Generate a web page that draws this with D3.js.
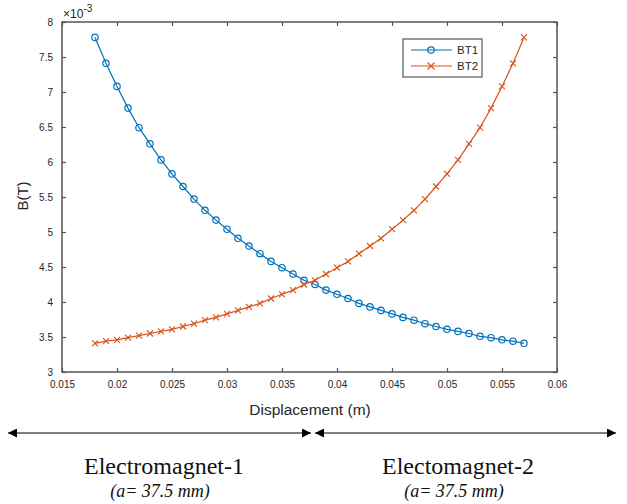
<!DOCTYPE html>
<html>
<head>
<meta charset="utf-8">
<script src="https://cdn.jsdelivr.net/npm/d3@7"></script>
<style>
  body { margin: 0; background: #fff; }
</style>
</head>
<body>
<script>
// Displacement (m) sample points
const displacement = [0.018, 0.019, 0.020, 0.021, 0.022, 0.023, 0.024, 0.025, 0.026, 0.027,
    0.028, 0.029, 0.030, 0.031, 0.032, 0.033, 0.034, 0.035, 0.036, 0.037,
    0.038, 0.039, 0.040, 0.041, 0.042, 0.043, 0.044, 0.045, 0.046, 0.047,
    0.048, 0.049, 0.050, 0.051, 0.052, 0.053, 0.054, 0.055, 0.056, 0.057];

// B field values, in units of 1e-3 T
const bt1 = [7.78, 7.41, 7.08, 6.77, 6.49, 6.26, 6.03, 5.83, 5.65, 5.47,
    5.31, 5.17, 5.04, 4.91, 4.80, 4.69, 4.58, 4.49, 4.40, 4.31,
    4.25, 4.17, 4.11, 4.05, 3.98, 3.93, 3.88, 3.83, 3.78, 3.74,
    3.69, 3.65, 3.61, 3.58, 3.55, 3.51, 3.49, 3.46, 3.44, 3.41];
const bt2 = [3.41, 3.44, 3.46, 3.49, 3.52, 3.55, 3.58, 3.61, 3.65, 3.69,
    3.74, 3.78, 3.83, 3.88, 3.93, 3.98, 4.05, 4.11, 4.17, 4.25,
    4.31, 4.40, 4.49, 4.58, 4.69, 4.80, 4.91, 5.04, 5.17, 5.31,
    5.47, 5.65, 5.83, 6.03, 6.26, 6.49, 6.77, 7.08, 7.41, 7.78];

const xTicks = [0.015, 0.02, 0.025, 0.03, 0.035, 0.04, 0.045, 0.05, 0.055, 0.06];
const yTicks = [3, 3.5, 4, 4.5, 5, 5.5, 6, 6.5, 7, 7.5, 8];

const seriesNames = ['BT1', 'BT2'];
const seriesColors = ['#0072BD', '#D95319'];

const regionLabels = ['Electromagnet-1', 'Electomagnet-2'];
const regionNotes = ['(a= 37.5 mm)', '(a= 37.5 mm)'];

var svg = d3.select("body")
    .append("svg")
    .attr("width", 627)
    .attr("height", 504);

var x = d3.scaleLinear().domain([0.015, 0.06]).range([62, 557]);
var y = d3.scaleLinear().domain([3, 8]).range([372, 22]);

var axisColor = "#555";
var fontSans = "'Liberation Sans', Arial, sans-serif";
var fontSerif = "'Liberation Serif', 'Times New Roman', serif";

// box around plot
svg.append("rect")
    .attr("x", 62).attr("y", 22)
    .attr("width", 495).attr("height", 350)
    .attr("fill", "none")
    .attr("stroke", axisColor)
    .attr("stroke-width", 1.5);

// bottom axis (ticks inward)
var gx = svg.append("g")
    .attr("transform", "translate(0,372)")
    .call(d3.axisBottom(x).tickValues(xTicks).tickSize(-4).tickPadding(9)
        .tickFormat(d3.format("")));
gx.select(".domain").remove();
gx.selectAll("line").attr("stroke", axisColor).attr("stroke-width", 1.2);
gx.selectAll("text").attr("font-family", fontSans).attr("font-size", 10).attr("fill", "#262626");

// top ticks
svg.append("g")
    .attr("transform", "translate(0,22)")
    .call(d3.axisTop(x).tickValues(xTicks).tickSize(-4).tickFormat(""))
    .call(g => g.select(".domain").remove())
    .selectAll("line").attr("stroke", axisColor).attr("stroke-width", 1.2);

// left axis
var gy = svg.append("g")
    .attr("transform", "translate(62,0)")
    .call(d3.axisLeft(y).tickValues(yTicks).tickSize(-4).tickPadding(9)
        .tickFormat(d3.format("")));
gy.select(".domain").remove();
gy.selectAll("line").attr("stroke", axisColor).attr("stroke-width", 1.2);
gy.selectAll("text").attr("font-family", fontSans).attr("font-size", 10).attr("fill", "#262626");

// right ticks
svg.append("g")
    .attr("transform", "translate(557,0)")
    .call(d3.axisRight(y).tickValues(yTicks).tickSize(-4).tickFormat(""))
    .call(g => g.select(".domain").remove())
    .selectAll("line").attr("stroke", axisColor).attr("stroke-width", 1.2);

// exponent label
var expo = svg.append("text")
    .attr("x", 63).attr("y", 18)
    .attr("font-family", fontSans).attr("font-size", 12).attr("fill", "#262626");
expo.append("tspan").text("\u00d710");
expo.append("tspan").attr("dy", -6).attr("font-size", 10).text("-3");

// axis labels
svg.append("text")
    .attr("transform", "translate(28,196) rotate(-90)")
    .attr("text-anchor", "middle")
    .attr("font-family", fontSans).attr("font-size", 15).attr("fill", "#262626")
    .text("B(T)");

svg.append("text")
    .attr("x", 310).attr("y", 415)
    .attr("text-anchor", "middle")
    .attr("font-family", fontSans).attr("font-size", 15.5).attr("fill", "#262626")
    .text("Displacement (m)");

// lines
var line = d3.line()
    .x((d, i) => x(displacement[i]))
    .y(d => y(d));

[bt1, bt2].forEach(function (vals, k) {
    svg.append("path")
        .datum(vals)
        .attr("d", line)
        .attr("fill", "none")
        .attr("stroke", seriesColors[k])
        .attr("stroke-width", 1.2);
});

// circle markers for BT1
svg.append("g").selectAll("circle")
    .data(bt1)
    .join("circle")
    .attr("cx", (d, i) => x(displacement[i]))
    .attr("cy", d => y(d))
    .attr("r", 3.2)
    .attr("fill", "none")
    .attr("stroke", seriesColors[0])
    .attr("stroke-width", 1.2);

// cross markers for BT2
function crossPath(cx, cy, s) {
    return `M${cx - s},${cy - s}L${cx + s},${cy + s}M${cx - s},${cy + s}L${cx + s},${cy - s}`;
}
svg.append("g").selectAll("path")
    .data(bt2)
    .join("path")
    .attr("d", (d, i) => crossPath(x(displacement[i]), y(d), 3))
    .attr("stroke", seriesColors[1])
    .attr("stroke-width", 1.1);

// legend
var lg = svg.append("g");
lg.append("rect")
    .attr("x", 403).attr("y", 39)
    .attr("width", 79).attr("height", 38)
    .attr("fill", "#fff")
    .attr("stroke", "#555")
    .attr("stroke-width", 1.2);
seriesNames.forEach(function (name, k) {
    var ly = 50 + k * 16;
    lg.append("line")
        .attr("x1", 411).attr("x2", 452)
        .attr("y1", ly).attr("y2", ly)
        .attr("stroke", seriesColors[k]).attr("stroke-width", 1.2);
    if (k === 0) {
        lg.append("circle").attr("cx", 431).attr("cy", ly).attr("r", 3.2)
            .attr("fill", "none").attr("stroke", seriesColors[k]).attr("stroke-width", 1.2);
    } else {
        lg.append("path").attr("d", crossPath(431, ly, 3.5))
            .attr("stroke", seriesColors[k]).attr("stroke-width", 1.1);
    }
    lg.append("text")
        .attr("x", 457).attr("y", ly + 4)
        .attr("font-family", fontSans).attr("font-size", 11.5).attr("fill", "#262626")
        .text(name);
});

// double-headed arrows under the chart
svg.append("defs").append("marker")
    .attr("id", "head")
    .attr("viewBox", "0 0 10 10")
    .attr("refX", 10).attr("refY", 5)
    .attr("markerWidth", 10).attr("markerHeight", 9)
    .attr("markerUnits", "userSpaceOnUse")
    .attr("orient", "auto-start-reverse")
    .append("path")
    .attr("d", "M0,0L10,5L0,10Z")
    .attr("fill", "#000");

var arrowSpans = [[8, 311], [315, 616]];
arrowSpans.forEach(function (s) {
    svg.append("line")
        .attr("x1", s[0]).attr("x2", s[1])
        .attr("y1", 433).attr("y2", 433)
        .attr("stroke", "#000").attr("stroke-width", 1.2)
        .attr("marker-start", "url(#head)")
        .attr("marker-end", "url(#head)");
});

var labelCenters = [164, 458];
regionLabels.forEach(function (t, k) {
    svg.append("text")
        .attr("x", labelCenters[k]).attr("y", 474)
        .attr("text-anchor", "middle")
        .attr("font-family", fontSerif)
        .attr("font-size", 24).attr("fill", "#111")
        .text(t);
    svg.append("text")
        .attr("x", labelCenters[k] - 4).attr("y", 497)
        .attr("text-anchor", "middle")
        .attr("font-family", fontSerif)
        .attr("font-style", "italic")
        .attr("font-size", 18).attr("fill", "#111")
        .text(regionNotes[k]);
});
</script>
</body>
</html>
